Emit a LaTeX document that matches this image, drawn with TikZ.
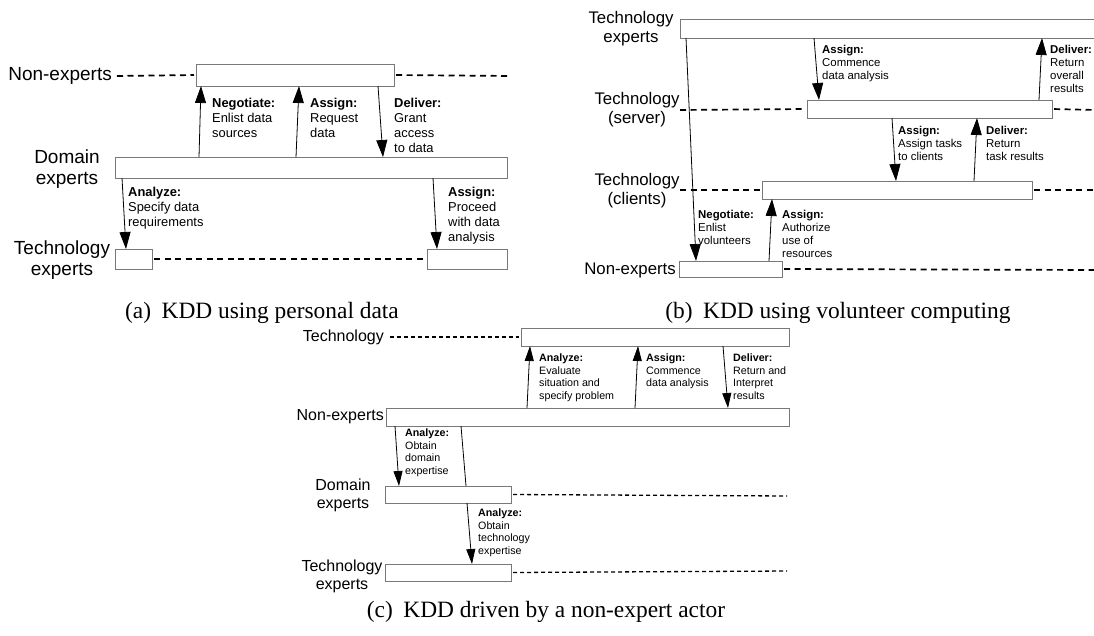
\documentclass[tikz,border=0pt]{standalone}
\usepackage{fontspec}
\setmainfont{Liberation Sans}
\newfontfamily\capfont{Liberation Serif}
\usetikzlibrary{arrows.meta}
\definecolor{boxgray}{RGB}{120,120,120}
\tikzset{
  box/.style={draw=boxgray, fill=white, line width=0.8pt, inner sep=0pt, outer sep=0pt, anchor=north west},
  arrA/.style={line width=0.8pt, -{Triangle[length=17pt,width=11pt]}},
  arrC/.style={line width=0.8pt, -{Triangle[length=15pt,width=9pt]}},
  plainline/.style={line width=0.8pt},
  dshA/.style={line width=1.7pt, dash pattern=on 6pt off 4.5pt, shorten >=2pt, shorten <=2pt},
  dshC/.style={line width=1.3pt, dash pattern=on 4pt off 3pt, shorten >=2pt, shorten <=2pt},
  lblA/.style={anchor=north west, align=left, inner sep=0pt, font=\fontsize{12.9pt}{15pt}\selectfont},
  lblB/.style={anchor=north west, align=left, inner sep=0pt, font=\fontsize{11.4pt}{13pt}\selectfont},
  lblC/.style={anchor=north west, align=left, inner sep=0pt, font=\fontsize{10.7pt}{12.5pt}\selectfont},
  bigA/.style={align=center, inner sep=0pt, font=\fontsize{19pt}{21pt}\selectfont},
  bigB/.style={align=center, inner sep=0pt, font=\fontsize{16.8pt}{19pt}\selectfont},
  bigC/.style={align=center, inner sep=0pt, font=\fontsize{16pt}{18pt}\selectfont},
  capt/.style={anchor=base, inner sep=0pt, font=\capfont\fontsize{23.4pt}{27pt}\selectfont},
}
\begin{document}
\begin{tikzpicture}[x=1pt,y=-1pt]
\useasboundingbox (0,0) rectangle (1094,635);
\clip (0,0) rectangle (1094,635);

% ===== Panel (a) =====
\node[box, minimum width=198pt, minimum height=22pt] (aN) at (196,64) {};
\node[box, minimum width=392pt, minimum height=21pt] (aD) at (115,157) {};
\node[box, minimum width=37pt, minimum height=20pt] (aT1) at (115,249) {};
\node[box, minimum width=80pt, minimum height=20pt] (aT2) at (427,249) {};

\node[bigA, anchor=east] (aNl) at (112,76) {Non-experts};
\node[bigA, anchor=north] (aDl) at (67,150) {Domain\\experts};
\node[bigA, anchor=north] (aTl) at (62,241) {Technology\\experts};

\coordinate (aNd1) at (115,76);
\coordinate (aNd2) at (512,76);
\draw[dshA] (aNd1) -- (aN.west);
\draw[dshA] (aN.east) -- (aNd2);
\draw[dshA] (aT1.east) -- (aT2.west);

\draw[arrA] ([xshift=84pt]aD.north west) -- ([xshift=5pt]aN.south west);
\draw[arrA] ([xshift=181pt]aD.north west) -- ([xshift=103pt]aN.south west);
\draw[arrA] ([xshift=182pt]aN.south west) -- ([xshift=268pt]aD.north west);
\draw[arrA] ([xshift=7pt]aD.south west) -- ([xshift=11pt]aT1.north west);
\draw[arrA] ([xshift=318pt]aD.south west) -- ([xshift=10pt]aT2.north west);

\node[lblA] (aL1) at (212,98) {\textbf{Negotiate:}\\Enlist data\\sources};
\node[lblA] (aL2) at (310,98) {\textbf{Assign:}\\Request\\data};
\node[lblA] (aL3) at (394,98) {\textbf{Deliver:}\\Grant\\access\\to data};
\node[lblA] (aL4) at (128,187) {\textbf{Analyze:}\\Specify data\\requirements};
\node[lblA] (aL5) at (448,187) {\textbf{Assign:}\\Proceed\\with data\\analysis};

\node[capt] (capA) at (262,318) {(a)\hspace{0.45em}KDD using personal data};

% ===== Panel (b) =====
\node[box, minimum width=440pt, minimum height=19pt] (bT) at (680,19) {};
\node[box, minimum width=245pt, minimum height=18pt] (bS) at (807,100) {};
\node[box, minimum width=270pt, minimum height=18pt] (bC) at (762,181) {};
\node[box, minimum width=103pt, minimum height=16pt] (bN) at (679,261) {};

\node[bigB, anchor=north] (bTl) at (631,11) {Technology\\experts};
\node[bigB, anchor=north] (bSl) at (637,92) {Technology\\(server)};
\node[bigB, anchor=north] (bCl) at (637,173) {Technology\\(clients)};
\node[bigB, anchor=east] (bNl) at (676,270) {Non-experts};

\coordinate (bSd1) at (678,110);
\coordinate (bSd2) at (1096,110);
\coordinate (bCd1) at (678,190);
\coordinate (bCd2) at (1096,190);
\coordinate (bNd2) at (1096,270);
\draw[dshA] (bSd1) -- (bS.west);
\draw[dshA] (bS.east) -- (bSd2);
\draw[dshA] (bCd1) -- (bC.west);
\draw[dshA] (bC.east) -- (bCd2);
\draw[dshA] (bN.east) -- (bNd2);

\draw[arrA] ([xshift=6pt]bT.south west) -- ([xshift=17pt]bN.north west);
\draw[arrA] ([xshift=90pt]bN.north west) -- ([xshift=10pt]bC.south west);
\draw[arrA] ([xshift=134pt]bT.south west) -- ([xshift=12pt]bS.north west);
\draw[arrA] ([xshift=232pt]bS.north west) -- ([xshift=362pt]bT.south west);
\draw[arrA] ([xshift=85pt]bS.south west) -- ([xshift=134pt]bC.north west);
\draw[arrA] ([xshift=212pt]bC.north west) -- ([xshift=170pt]bS.south west);

\node[lblB] (bL1) at (698,210) {\textbf{Negotiate:}\\Enlist\\volunteers};
\node[lblB] (bL2) at (782,210) {\textbf{Assign:}\\Authorize\\use of\\resources};
\node[lblB] (bL3) at (822,45) {\textbf{Assign:}\\Commence\\data analysis};
\node[lblB] (bL4) at (1050,45) {\textbf{Deliver:}\\Return\\overall\\results};
\node[lblB] (bL5) at (898,126) {\textbf{Assign:}\\Assign tasks\\to clients};
\node[lblB] (bL6) at (986,126) {\textbf{Deliver:}\\Return\\task results};

\node[capt] (capB) at (838,318) {(b)\hspace{0.45em}KDD using volunteer computing};

% ===== Panel (c) =====
\node[box, minimum width=268pt, minimum height=18pt] (cT) at (521,328) {};
\node[box, minimum width=403pt, minimum height=18pt] (cN) at (386,408) {};
\node[box, minimum width=126pt, minimum height=17pt] (cD) at (385,486) {};
\node[box, minimum width=126pt, minimum height=17pt] (cE) at (385,564) {};

\node[bigC, anchor=east] (cTl) at (384,337) {Technology};
\node[bigC, anchor=east] (cNl) at (384,417) {Non-experts};
\node[bigC, anchor=north] (cDl) at (343,479) {Domain\\experts};
\node[bigC, anchor=north] (cEl) at (342,560) {Technology\\experts};

\coordinate (cTd1) at (388,337);
\coordinate (cDd2) at (789,496);
\coordinate (cEd2) at (789,571);
\draw[dshC] (cTd1) -- (cT.west);
\draw[dshC] (cD.east) -- (cDd2);
\draw[dshC] (cE.east) -- (cEd2);

\draw[arrC] ([xshift=141pt]cN.north west) -- ([xshift=9pt]cT.south west);
\draw[arrC] ([xshift=249pt]cN.north west) -- ([xshift=117pt]cT.south west);
\draw[arrC] ([xshift=202pt]cT.south west) -- ([xshift=342pt]cN.north west);
\draw[arrC] ([xshift=9pt]cN.south west) -- ([xshift=14pt]cD.north west);
\draw[plainline] ([xshift=75pt]cN.south west) -- ([xshift=81pt]cD.north west);
\draw[arrC] ([xshift=82pt]cD.south west) -- ([xshift=87pt]cE.north west);

\node[lblC] (cL1) at (539,354) {\textbf{Analyze:}\\Evaluate\\situation and\\specify problem};
\node[lblC] (cL2) at (646,354) {\textbf{Assign:}\\Commence\\data analysis};
\node[lblC] (cL3) at (733,354) {\textbf{Deliver:}\\Return and\\Interpret\\results};
\node[lblC] (cL4) at (405,429) {\textbf{Analyze:}\\Obtain\\domain\\expertise};
\node[lblC] (cL5) at (478,509) {\textbf{Analyze:}\\Obtain\\technology\\expertise};

\node[capt] (capC) at (546,617) {(c)\hspace{0.45em}KDD driven by a non-expert actor};
\end{tikzpicture}
\end{document}
